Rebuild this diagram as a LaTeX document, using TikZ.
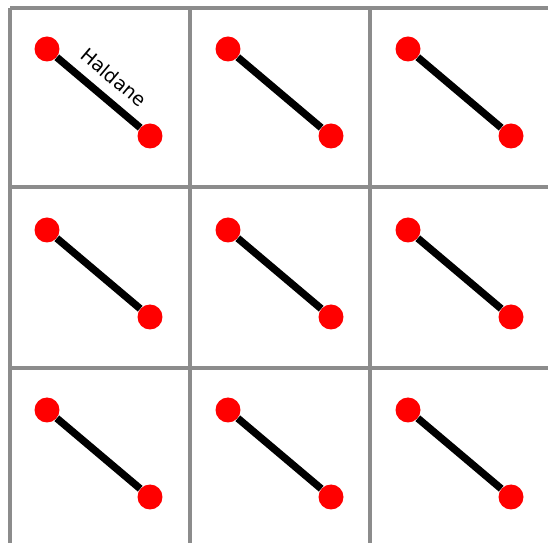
\documentclass[tikz,border=0pt]{standalone}
\usepackage{fontspec}
\setmainfont{DejaVu Sans}

\begin{document}
\begin{tikzpicture}[x=0.02cm,y=-0.02cm,
  site/.style={circle, fill=red, inner sep=0pt, minimum size=0.5cm},
  bond/.style={line width=4.2pt},
  cellline/.style={line width=2pt, color=gray!90}]
\useasboundingbox (0,0) rectangle (548,543);
% cell borders
\foreach \x in {10,190,370} {
  \draw[cellline] (\x,8) -- (\x,543);
}
\foreach \y in {8,187,368} {
  \draw[cellline] (10,\y) -- (548,\y);
}
% one bond per cell
\foreach \i/\x in {0/47, 1/228, 2/408} {
  \foreach \j/\y in {0/49, 1/230, 2/410} {
    \node[site] (a\i\j) at (\x,\y) {};
    \node[site] (b\i\j) at (\x+103,\y+87) {};
    \draw[bond] (a\i\j) -- (b\i\j);
  }
}
\path (a00) -- node[sloped, above=4.5pt, xshift=1pt, font=\fontsize{10.8pt}{13pt}\selectfont] (lab) {Haldane} (b00);
\end{tikzpicture}
\end{document}
